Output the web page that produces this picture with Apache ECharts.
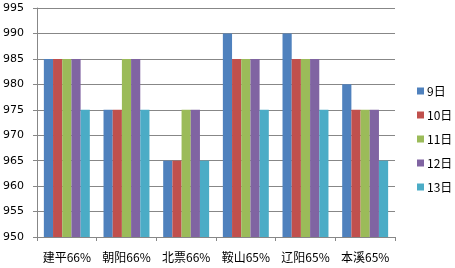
<!DOCTYPE html>
<html><head><meta charset="utf-8">
<script src="https://cdn.jsdelivr.net/npm/echarts@6/dist/echarts.min.js"></script>
<style>html,body{margin:0;padding:0;background:#fff}#c{width:455px;height:268px}</style>
</head><body><div id="c"></div>
<script>
const categories = ['建平66%','朝阳66%','北票66%','鞍山65%','辽阳65%','本溪65%'];
const seriesNames = ['9日','10日','11日','12日','13日'];
const d9  = [985, 975, 965, 990, 990, 980];
const d10 = [985, 975, 965, 985, 985, 975];
const d11 = [985, 985, 975, 985, 985, 975];
const d12 = [985, 985, 975, 985, 985, 975];
const d13 = [975, 975, 965, 975, 975, 965];
const values = [d9, d10, d11, d12, d13];
const colors = ['#4F81BD','#C0504D','#9BBB59','#8064A2','#4BACC6'];
const font = '"Noto Sans CJK SC", "DejaVu Sans", sans-serif';
const chart = echarts.init(document.getElementById('c'), null, {renderer:'canvas'});
chart.setOption({
  animation:false,
  color: colors,
  grid:{left:35, right:60, top:8, bottom:31, containLabel:false},
  legend:{
    orient:'vertical', left:412, top:80,
    itemWidth:7, itemHeight:7, itemGap:12,
    icon:'rect',
    textStyle:{fontSize:12, color:'#000', fontFamily:font, padding:[0,0,0,-2]},
    data: seriesNames
  },
  xAxis:{
    type:'category', data:categories,
    axisLine:{lineStyle:{color:'#878787', width:1}},
    axisTick:{show:true, length:4, interval:0, lineStyle:{color:'#878787'}},
    axisLabel:{color:'#000', fontSize:12, fontFamily:font, margin:14, interval:0}
  },
  yAxis:{
    type:'value', min:950, max:995, interval:5,
    axisLine:{show:true, lineStyle:{color:'#878787'}},
    axisTick:{show:true, length:4, lineStyle:{color:'#878787'}},
    axisLabel:{color:'#000', fontSize:11, fontFamily:'"DejaVu Sans", sans-serif', margin:13},
    splitLine:{lineStyle:{color:'#878787', width:1}}
  },
  series: seriesNames.map((n,i)=>({
    name:n, type:'bar', data:values[i], barGap:'0%', barCategoryGap:'23%'
  }))
});
</script></body></html>
